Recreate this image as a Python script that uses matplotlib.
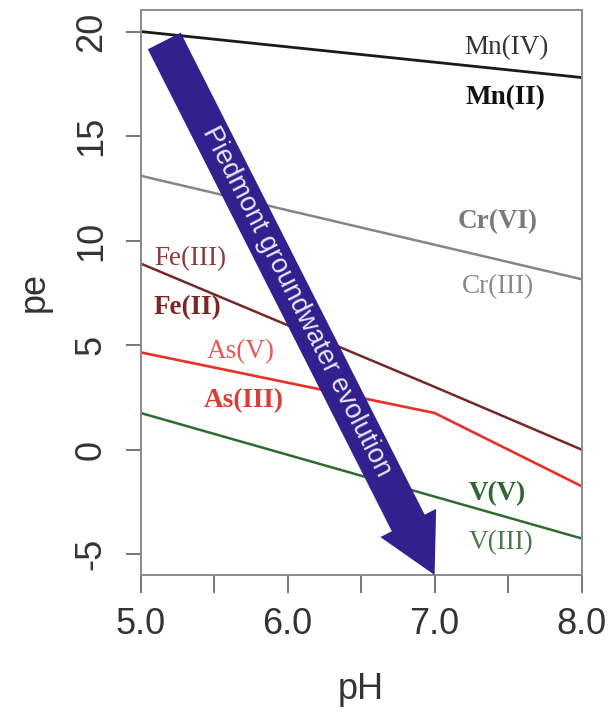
import matplotlib.pyplot as plt
from matplotlib.patches import FancyArrowPatch, ArrowStyle

# redox boundaries, pe vs pH
ph_mn = [5.0, 8.0]
pe_mn = [20.0, 17.8]
ph_cr = [5.0, 8.0]
pe_cr = [13.1, 8.15]
ph_fe = [5.0, 7.0, 8.0]
pe_fe = [8.9, 3.0, 0.0]
ph_as = [5.0, 7.0, 8.0]
pe_as = [4.65, 1.75, -1.75]
ph_v = [5.0, 8.0]
pe_v = [1.75, -4.25]

# label text, position (pH, pe), bold?, colour
labels = ["Mn(IV)", "Mn(II)", "Cr(VI)", "Cr(III)", "Fe(III)", "Fe(II)",
          "As(V)", "As(III)", "V(V)", "V(III)"]
label_ph = [7.49, 7.48, 7.43, 7.43, 5.34, 5.32, 5.68, 5.70, 7.43, 7.45]
label_pe = [19.25, 16.85, 10.9, 7.8, 9.15, 6.8, 4.7, 2.35, -2.1, -4.45]
label_bold = [False, True, True, False, False, True, False, True, True, False]
label_col = ["#333333", "#111111", "#7a7a7a", "#8a8a8a", "#8b3a3a", "#7d2626",
             "#e25a50", "#dd3b33", "#2f6630", "#4a7a4a"]

arrow_start = (5.16, 19.55)
arrow_end = (7.0, -6.0)

fig = plt.figure(figsize=(6.1, 7.2), dpi=100)
ax = fig.add_axes([0.2307, 0.2014, 0.7226, 0.7847])

ax.plot(ph_mn, pe_mn, color="#1a1a1a", lw=2.0)
ax.plot(ph_cr, pe_cr, color="#8c8282", lw=1.8)
ax.plot(ph_fe, pe_fe, color="#742828", lw=1.8)
ax.plot(ph_as, pe_as, color="#e8302a", lw=1.9)
ax.plot(ph_v, pe_v, color="#2e6b2e", lw=1.8)

for txt, x, y, b, c in zip(labels, label_ph, label_pe, label_bold, label_col):
    ax.text(x, y, txt, ha="center", va="center", color=c, fontsize=19.5,
            family="Liberation Serif", fontweight="bold" if b else "normal")

arr = FancyArrowPatch(arrow_start, arrow_end,
                      arrowstyle=ArrowStyle.Simple(head_length=42, head_width=45, tail_width=26.5),
                      mutation_scale=1, shrinkA=0, shrinkB=0,
                      color="#33208f", lw=0, zorder=5, clip_on=False)
ax.add_patch(arr)
ax.text(6.058, 7.1, "Piedmont groundwater evolution", rotation=-63.1,
        rotation_mode="anchor", ha="center", va="center", color="#ebe6f7",
        fontsize=19.5, family="Liberation Sans", zorder=6)

ax.set_xlim(5.0, 8.0)
ax.set_ylim(-6.0, 21.03)
ax.set_xticks([5.0, 6.0, 7.0, 8.0])
ax.set_xticklabels(["5.0", "6.0", "7.0", "8.0"])
ax.set_xticks([5.5, 6.5, 7.5], minor=True)
ax.set_yticks([-5, 0, 5, 10, 15, 20])
ax.set_yticklabels(["-5", "0", "5", "10", "15", "20"], rotation=90, va="center")

for s in ax.spines.values():
    s.set_color("#8a8a8a")
    s.set_linewidth(1.4)
ax.tick_params(axis="x", which="both", length=13, width=1.4, color="#777777",
               labelsize=26, labelcolor="#333333", pad=10)
ax.tick_params(axis="y", length=11, width=1.4, color="#777777",
               labelsize=26, labelcolor="#333333", pad=12)
for t in ax.get_xticklabels() + ax.get_yticklabels():
    t.set_family("Liberation Sans")

ax.set_xlabel("pH", fontsize=26, family="Liberation Sans", color="#333333", labelpad=22)
ax.set_ylabel("pe", fontsize=26, family="Liberation Sans", color="#333333", labelpad=16)

fig.savefig("out.png", dpi=100)
